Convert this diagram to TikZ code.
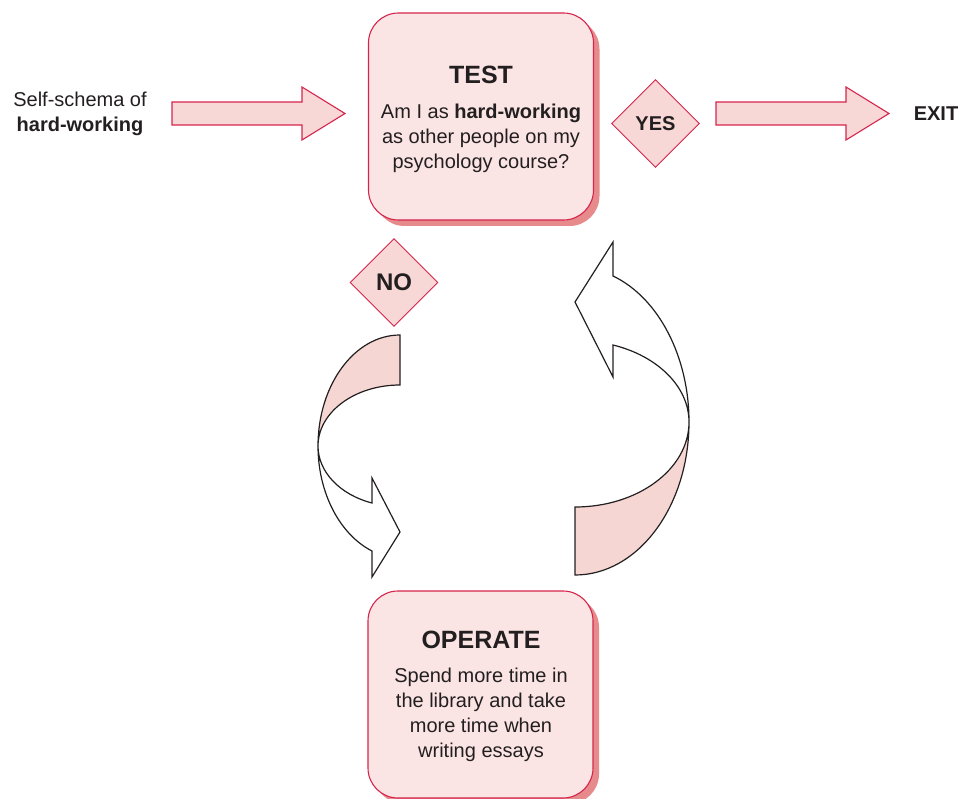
\documentclass[tikz,border=0pt]{standalone}
\usepackage{fontspec}
\setmainfont{Liberation Sans}
\usetikzlibrary{shapes.geometric,shadows}
\definecolor{crim}{RGB}{214,36,76}
\definecolor{boxpink}{RGB}{251,229,228}
\definecolor{arrpink}{RGB}{248,216,214}
\definecolor{shadowpink}{RGB}{231,138,140}
\definecolor{bandpink}{RGB}{246,214,210}
\definecolor{ink}{RGB}{35,31,32}
\tikzset{
  box/.style={draw=crim, fill=boxpink, line width=1.1pt, rounded corners=30pt,
    minimum width=225pt, minimum height=207pt, inner sep=0pt,
    drop shadow={shadow xshift=6pt, shadow yshift=-6pt, fill=shadowpink, opacity=1}},
  titletext/.style={text=ink, font=\fontsize{25}{30}\selectfont\bfseries, inner sep=0pt},
  bodytext/.style={text=ink, font=\fontsize{20}{25}\selectfont, align=center, inner sep=0pt},
  decision/.style={diamond, aspect=1, draw=crim, fill=arrpink, line width=0.9pt,
    minimum width=88pt, minimum height=88pt, inner sep=0pt, text=ink},
  blockarrow/.style={draw=crim, fill=arrpink, line width=1.1pt, line join=miter},
  twist/.style={draw=ink, line width=1.2pt, line join=miter},
}
\begin{document}
\begin{tikzpicture}[x=1pt,y=-1pt]
\useasboundingbox (0,0) rectangle (958,799);

% TEST box
\node[box] (test) at (481,116.5) {};
\node[titletext] (testtitle) at (481,75) {TEST};
\node[bodytext] (testbody) at (481,138) {Am I as \textbf{hard-working}\\as other people on my\\psychology course?};

% OPERATE box
\node[box] (operate) at (480.5,694.5) {};
\node[titletext] (operatetitle) at (481,640) {OPERATE};
\node[bodytext] (operatebody) at (481,714.5) {Spend more time in\\the library and take\\more time when\\writing essays};

% input text
\node[bodytext] (schema) at (80,114) {Self-schema of\\\textbf{hard-working}};
% exit
\node[bodytext, font=\fontsize{20}{25}\selectfont\bfseries] (exit) at (936,113.5) {EXIT};

% decisions
\node[decision, font=\fontsize{20}{24}\selectfont\bfseries] (yes) at (655.5,123.5) {YES};
\node[decision, font=\fontsize{24}{28}\selectfont\bfseries] (no) at (394,282.5) {NO};

% block arrows
\draw[blockarrow] (172,102) -- (302,102) -- (302,87) -- (345,113.5) -- (302,140) -- (302,125) -- (172,125) -- cycle;
\draw[blockarrow] (716,102) -- (846,102) -- (846,87) -- (889,113.5) -- (846,140) -- (846,125) -- (716,125) -- cycle;

% left twisted arrow (NO -> OPERATE)
\draw[twist, fill=bandpink] (400,335) .. controls (354.7,335) and (318,384.7) .. (318,446)
   .. controls (318,412.3) and (354.7,385) .. (400,385) -- cycle;
\draw[twist, fill=white] (318,446) .. controls (318,492.7) and (339.6,534.4) .. (372,551)
   -- (372,577) -- (400,532) -- (372,478) -- (372,503)
   .. controls (339.6,494.6) and (318,471.6) .. (318,446) -- cycle;

% right twisted arrow (OPERATE -> TEST)
\draw[twist, fill=bandpink] (575,575) .. controls (638,575) and (689,506.5) .. (689,422)
   .. controls (689,469) and (638,507) .. (575,507) -- cycle;
\draw[twist, fill=white] (689,422) .. controls (689,356.4) and (658.4,297.7) .. (613,276)
   -- (613,242) -- (575,302) -- (613,377) -- (613,345)
   .. controls (658.4,356.2) and (689,387.3) .. (689,422) -- cycle;
\end{tikzpicture}
\end{document}
